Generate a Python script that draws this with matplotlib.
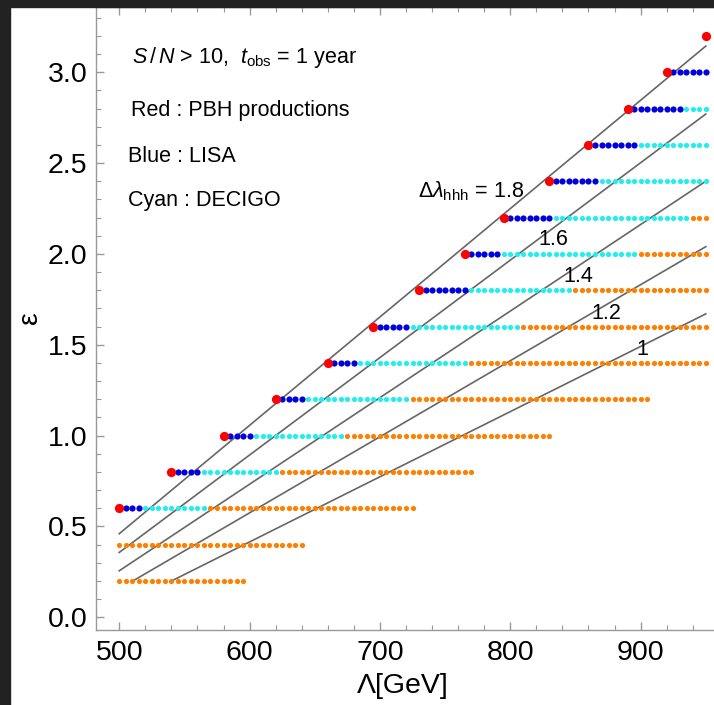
import numpy as np
import matplotlib
matplotlib.use("Agg")
import matplotlib.pyplot as plt
from matplotlib.patches import Rectangle

plt.rcParams['font.family'] = ['Liberation Sans', 'DejaVu Sans']
plt.rcParams['mathtext.fontset'] = 'custom'
plt.rcParams['mathtext.rm'] = 'Liberation Sans'
plt.rcParams['mathtext.it'] = 'Liberation Sans:italic'
plt.rcParams['mathtext.bf'] = 'Liberation Sans:bold'

# ---- scan rows: epsilon value and Lambda ranges (GeV) of each region ----
eps_rows    = [0.2, 0.4, 0.6, 0.8, 1.0, 1.2, 1.4, 1.6, 1.8, 2.0, 2.2, 2.4, 2.6, 2.8, 3.0, 3.2]
scan_start  = [500, 500, 500, 540, 580, 620, 660, 695, 730, 765, 795, 830, 860, 890, 920, 950]
pbh_row     = [False, False] + [True] * 14
lisa_end    = [None, None, 515, 560, 600, 640, 680, 720, 765, 790, 830, 865, 895, 930, 950, None]
decigo_end  = [None, None, 565, 620, 670, 720, 765, 805, 845, 895, 935, 950, 950, 950, None, None]
scan_end    = [595, 640, 725, 770, 830, 905, 950, 950, 950, 950, 950, 950, 950, 950, 950, 950]
lam_step = 5

# ---- Delta lambda_hhh contour lines ----
dl_values  = ["1.8", "1.6", "1.4", "1.2", "1"]
line_lam0  = [500, 500, 500, 509.5, 539]
line_eps0  = [0.46, 0.357, 0.256, 0.196, 0.196]
line_lam1  = [950, 950, 950, 950, 950]
line_eps1  = [3.144, 2.77, 2.40, 2.04, 1.67]
label_lam  = [729.2, 821.5, 840.7, 862.2, 896.7]
label_eps  = [2.313, 2.049, 1.845, 1.642, 1.444]

c_red, c_blue, c_cyan, c_orange = '#ff0000', '#0000dd', '#22eeee', '#ff8000'

W, H = 714, 705
fig = plt.figure(figsize=(W / 100, H / 100), dpi=100)
fig.patch.set_facecolor('white')

x0_px, y_bot_px, y_top_px = 95.5, 630, 7
xlim = (481.8, 960.0)
ylim = (-0.0699, 3.359)
px_per_gev = 1.3035
ax_w = (xlim[1] - xlim[0]) * px_per_gev
ax = fig.add_axes([x0_px / W, 1 - y_bot_px / H, ax_w / W, (y_bot_px - y_top_px) / H])
ax.set_xlim(*xlim)
ax.set_ylim(*ylim)

# contour lines
for l0, e0, l1, e1 in zip(line_lam0, line_eps0, line_lam1, line_eps1):
    ax.plot([l0, l1], [e0, e1], color='#666666', lw=1.2, zorder=2)

# scan points
groups = {'o': ([], []), 'c': ([], []), 'b': ([], []), 'r': ([], [])}
for eps, s, pbh, le, de, se in zip(eps_rows, scan_start, pbh_row, lisa_end, decigo_end, scan_end):
    le = -np.inf if le is None else le
    de = -np.inf if de is None else de
    for lam in np.arange(s, se + 1, lam_step):
        if pbh and lam == s:
            key = 'r'
        elif lam <= le:
            key = 'b'
        elif lam <= de:
            key = 'c'
        else:
            key = 'o'
        groups[key][0].append(lam)
        groups[key][1].append(eps)

ax.scatter(*groups['o'], s=14, color=c_orange, lw=0, zorder=3)
ax.scatter(*groups['c'], s=14, color=c_cyan, lw=0, zorder=3)
ax.scatter(*groups['b'], s=20, color=c_blue, lw=0, zorder=4)
ax.scatter(*groups['r'], s=44, color=c_red, lw=0, zorder=5)

# contour labels
for i, (txt, lx, ly) in enumerate(zip(dl_values, label_lam, label_eps)):
    s = r"$\Delta\lambda_{\rm hhh}$ = " + txt if i == 0 else txt
    ax.text(lx, ly, s, fontsize=15.5, ha='left', va='baseline', zorder=6)

# legend-like annotations
ax.text(509.5, 3.051, r"$S\,/\,N$ > 10,  $t_{\rm obs}$ = 1 year", fontsize=15.5, ha='left', va='baseline')
ax.text(508.7, 2.759, "Red : PBH productions", fontsize=15.5, ha='left', va='baseline')
ax.text(506.7, 2.506, "Blue : LISA", fontsize=15.5, ha='left', va='baseline')
ax.text(506.7, 2.264, "Cyan : DECIGO", fontsize=15.5, ha='left', va='baseline')

# axes styling
ax.set_xticks([500, 600, 700, 800, 900])
ax.set_xticks(np.arange(500, 960, 20), minor=True)
ax.set_yticks([0.0, 0.5, 1.0, 1.5, 2.0, 2.5, 3.0])
ax.set_yticks(np.arange(0, 3.35, 0.1), minor=True)
ax.set_yticklabels(['0.0', '0.5', '1.0', '1.5', '2.0', '2.5', '3.0'])
ax.tick_params(which='both', direction='in', color='#999999', top=True, right=False,
               labelsize=20.5, labelcolor='black')
ax.tick_params(which='major', length=6, width=1)
ax.tick_params(which='minor', length=3.5, width=0.8)
ax.tick_params(axis='x', pad=7)
ax.tick_params(axis='y', pad=6)
for sp in ax.spines.values():
    sp.set_color('#999999')
    sp.set_linewidth(1)

ax.set_xlabel('Λ[GeV]', fontsize=20.5, va='center')
ax.xaxis.set_label_coords((403 - x0_px) / ax_w, -(686 - y_bot_px) / (y_bot_px - y_top_px))
ax.set_ylabel('ε', fontsize=20.5, va='center', rotation=90)
ax.yaxis.set_label_coords((30 - x0_px) / ax_w, (y_bot_px - 318) / (y_bot_px - y_top_px))

# dark frame strips
fig.patches.append(Rectangle((0, 0), 10 / W, 1, transform=fig.transFigure, color='#222222', zorder=10))
fig.patches.append(Rectangle((0, 1 - 7 / H), 1, 7 / H, transform=fig.transFigure, color='#222222', zorder=10))

fig.savefig('out.png', dpi=100)
